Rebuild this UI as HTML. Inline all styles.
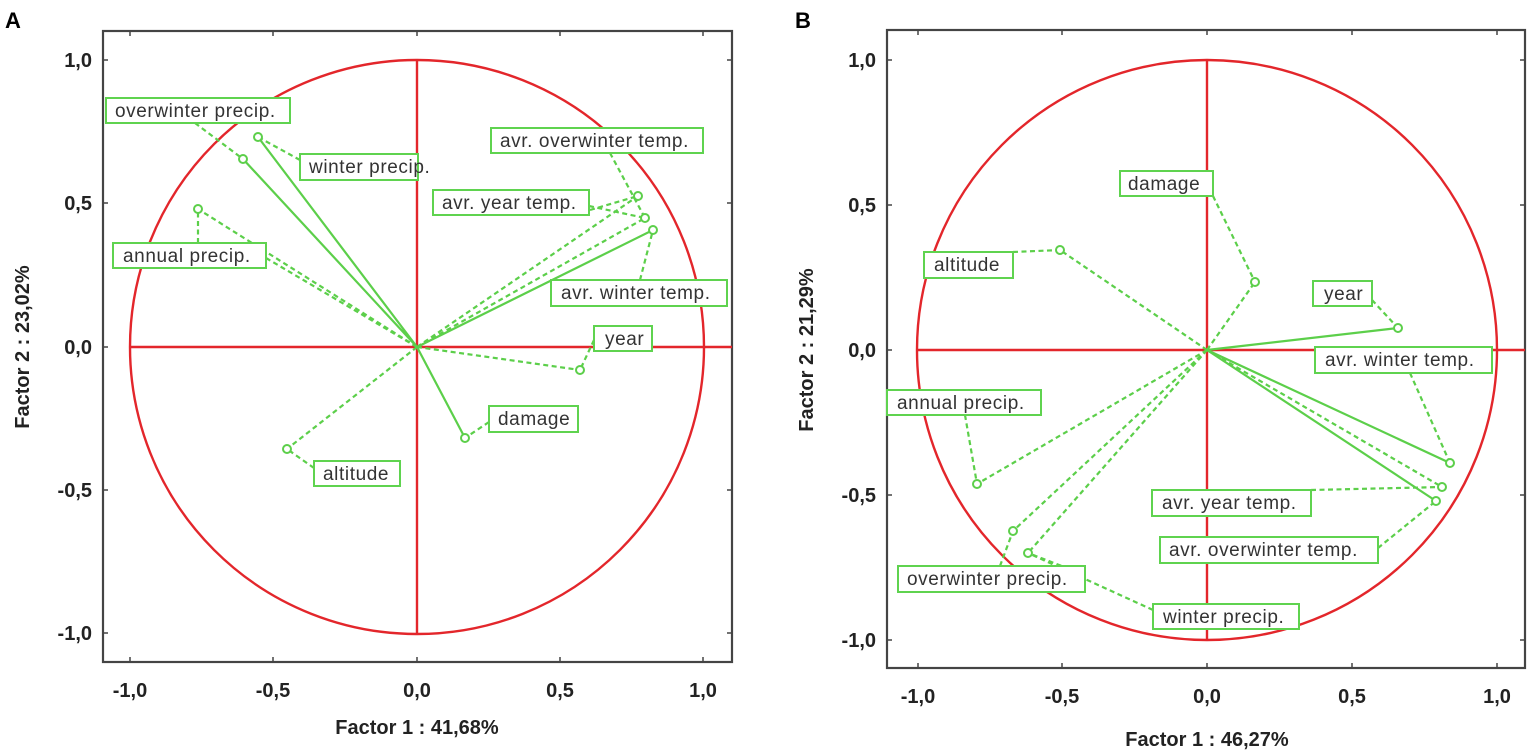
<!DOCTYPE html>
<html><head><style>body{margin:0;background:#fff}svg{display:block}
.t{font:bold 20px "Liberation Sans",sans-serif;fill:#222}
.l{font:19px "Liberation Sans",sans-serif;fill:#333;letter-spacing:0.6px}
.b{fill:#fff;stroke:#5fd34f;stroke-width:2}
.s{stroke:#5ccf4a;stroke-width:2.2;fill:none}
.d{stroke:#5ccf4a;stroke-width:2.2;fill:none;stroke-dasharray:5,3.5}
.p{fill:#fff;stroke:#5ccf4a;stroke-width:2}
.r{stroke:#e3262b;stroke-width:2.4;fill:none}
.f{stroke:#444;stroke-width:2.2;fill:none}
</style></head><body>
<svg width="1535" height="756" xmlns="http://www.w3.org/2000/svg">
<text x="5" y="28" style="font:bold 22px 'Liberation Sans',sans-serif">A</text>
<text x="795" y="28" style="font:bold 22px 'Liberation Sans',sans-serif">B</text>
<rect class="f" x="103" y="31" width="629" height="631"/>
<g stroke="#444" stroke-width="1.5">
<line x1="130" y1="31" x2="130" y2="36"/><line x1="273" y1="31" x2="273" y2="36"/><line x1="417" y1="31" x2="417" y2="36"/><line x1="560" y1="31" x2="560" y2="36"/><line x1="703" y1="31" x2="703" y2="36"/>
<line x1="130" y1="662" x2="130" y2="657"/><line x1="273" y1="662" x2="273" y2="657"/><line x1="417" y1="662" x2="417" y2="657"/><line x1="560" y1="662" x2="560" y2="657"/><line x1="703" y1="662" x2="703" y2="657"/>
<line x1="103" y1="60" x2="108" y2="60"/><line x1="103" y1="203" x2="108" y2="203"/><line x1="103" y1="347" x2="108" y2="347"/><line x1="103" y1="490" x2="108" y2="490"/><line x1="103" y1="633" x2="108" y2="633"/>
<line x1="732" y1="60" x2="727" y2="60"/><line x1="732" y1="203" x2="727" y2="203"/><line x1="732" y1="347" x2="727" y2="347"/><line x1="732" y1="490" x2="727" y2="490"/><line x1="732" y1="633" x2="727" y2="633"/>
</g>
<circle class="r" cx="417" cy="347" r="287"/>
<line class="r" x1="130" y1="347" x2="732" y2="347"/>
<line class="r" x1="417" y1="60" x2="417" y2="633"/>
<g class="t" text-anchor="end"><text x="92" y="67">1,0</text><text x="92" y="210">0,5</text><text x="92" y="354">0,0</text><text x="92" y="497">-0,5</text><text x="92" y="640">-1,0</text></g>
<g class="t" text-anchor="middle"><text x="130" y="697">-1,0</text><text x="273" y="697">-0,5</text><text x="417" y="697">0,0</text><text x="560" y="697">0,5</text><text x="703" y="697">1,0</text>
<text x="417" y="734">Factor 1 : 41,68%</text>
<text transform="translate(29,347) rotate(-90)">Factor 2 : 23,02%</text></g>
<path class="s" d="M417 347L258 137M417 347L243 159M417 347L653 230M417 347L465 438"/>
<path class="d" d="M417 347L198 209M417 347L638 196M417 347L645 218M417 347L580 370M417 347L287 449"/>
<path class="d" d="M195 123L243 159M300 160L258 137M198 243L198 209M266 258L417 347M590 210L638 196M589 206L645 218M640 280L653 230M594 340L580 370M489 422L465 438M314 468L287 449M610 153L645 218"/>
<g class="p"><circle cx="258" cy="137" r="4"/><circle cx="243" cy="159" r="4"/><circle cx="198" cy="209" r="4"/><circle cx="638" cy="196" r="4"/><circle cx="645" cy="218" r="4"/><circle cx="653" cy="230" r="4"/><circle cx="580" cy="370" r="4"/><circle cx="465" cy="438" r="4"/><circle cx="287" cy="449" r="4"/></g>
<g><rect class="b" x="106" y="98" width="184" height="25"/><text class="l" x="115" y="117">overwinter precip.</text>
<rect class="b" x="300" y="154" width="118" height="26"/><text class="l" x="309" y="173">winter precip.</text>
<rect class="b" x="113" y="243" width="153" height="25"/><text class="l" x="123" y="262">annual precip.</text>
<rect class="b" x="491" y="128" width="212" height="25"/><text class="l" x="500" y="147">avr. overwinter temp.</text>
<rect class="b" x="433" y="190" width="156" height="25"/><text class="l" x="442" y="209">avr. year temp.</text>
<rect class="b" x="551" y="280" width="176" height="26"/><text class="l" x="561" y="299">avr. winter temp.</text>
<rect class="b" x="594" y="326" width="58" height="25"/><text class="l" x="605" y="345">year</text>
<rect class="b" x="489" y="406" width="89" height="26"/><text class="l" x="498" y="425">damage</text>
<rect class="b" x="314" y="461" width="86" height="25"/><text class="l" x="323" y="480">altitude</text></g>
<rect class="f" x="887" y="30" width="638" height="638"/>
<g stroke="#444" stroke-width="1.5">
<line x1="918" y1="30" x2="918" y2="35"/><line x1="1062" y1="30" x2="1062" y2="35"/><line x1="1207" y1="30" x2="1207" y2="35"/><line x1="1352" y1="30" x2="1352" y2="35"/><line x1="1497" y1="30" x2="1497" y2="35"/>
<line x1="918" y1="668" x2="918" y2="663"/><line x1="1062" y1="668" x2="1062" y2="663"/><line x1="1207" y1="668" x2="1207" y2="663"/><line x1="1352" y1="668" x2="1352" y2="663"/><line x1="1497" y1="668" x2="1497" y2="663"/>
<line x1="887" y1="60" x2="892" y2="60"/><line x1="887" y1="205" x2="892" y2="205"/><line x1="887" y1="350" x2="892" y2="350"/><line x1="887" y1="495" x2="892" y2="495"/><line x1="887" y1="640" x2="892" y2="640"/>
<line x1="1525" y1="60" x2="1520" y2="60"/><line x1="1525" y1="205" x2="1520" y2="205"/><line x1="1525" y1="495" x2="1520" y2="495"/><line x1="1525" y1="640" x2="1520" y2="640"/>
</g>
<circle class="r" cx="1207" cy="350" r="290"/>
<line class="r" x1="917" y1="350" x2="1525" y2="350"/>
<line class="r" x1="1207" y1="60" x2="1207" y2="640"/>
<g class="t" text-anchor="end"><text x="876" y="67">1,0</text><text x="876" y="212">0,5</text><text x="876" y="357">0,0</text><text x="876" y="502">-0,5</text><text x="876" y="647">-1,0</text></g>
<g class="t" text-anchor="middle"><text x="918" y="703">-1,0</text><text x="1062" y="703">-0,5</text><text x="1207" y="703">0,0</text><text x="1352" y="703">0,5</text><text x="1497" y="703">1,0</text>
<text x="1207" y="746">Factor 1 : 46,27%</text>
<text transform="translate(813,350) rotate(-90)">Factor 2 : 21,29%</text></g>
<path class="s" d="M1207 350L1398 328M1207 350L1450 463M1207 350L1436 501"/>
<path class="d" d="M1207 350L1255 282M1207 350L1060 250M1207 350L1442 487M1207 350L977 484M1207 350L1013 531M1207 350L1028 553"/>
<path class="d" d="M1213 196L1255 282M1013 252L1060 250M1372 300L1398 328M1410 373L1450 463M965 415L977 484M1311 490L1442 487M1378 548L1436 501M1000 566L1013 531M1085 575L1028 553M1153 610L1028 553"/>
<g class="p"><circle cx="1255" cy="282" r="4"/><circle cx="1060" cy="250" r="4"/><circle cx="1398" cy="328" r="4"/><circle cx="1450" cy="463" r="4"/><circle cx="1442" cy="487" r="4"/><circle cx="1436" cy="501" r="4"/><circle cx="977" cy="484" r="4"/><circle cx="1013" cy="531" r="4"/><circle cx="1028" cy="553" r="4"/></g>
<g><rect class="b" x="1120" y="171" width="93" height="25"/><text class="l" x="1128" y="190">damage</text>
<rect class="b" x="924" y="252" width="89" height="26"/><text class="l" x="934" y="271">altitude</text>
<rect class="b" x="1313" y="281" width="59" height="25"/><text class="l" x="1324" y="300">year</text>
<rect class="b" x="1315" y="347" width="177" height="26"/><text class="l" x="1325" y="366">avr. winter temp.</text>
<rect class="b" x="887" y="390" width="154" height="25"/><text class="l" x="897" y="409">annual precip.</text>
<rect class="b" x="1152" y="490" width="159" height="26"/><text class="l" x="1162" y="509">avr. year temp.</text>
<rect class="b" x="1160" y="537" width="218" height="26"/><text class="l" x="1169" y="556">avr. overwinter temp.</text>
<rect class="b" x="898" y="566" width="187" height="26"/><text class="l" x="907" y="585">overwinter precip.</text>
<rect class="b" x="1153" y="604" width="146" height="25"/><text class="l" x="1163" y="623">winter precip.</text></g>
</svg>
</body></html>
